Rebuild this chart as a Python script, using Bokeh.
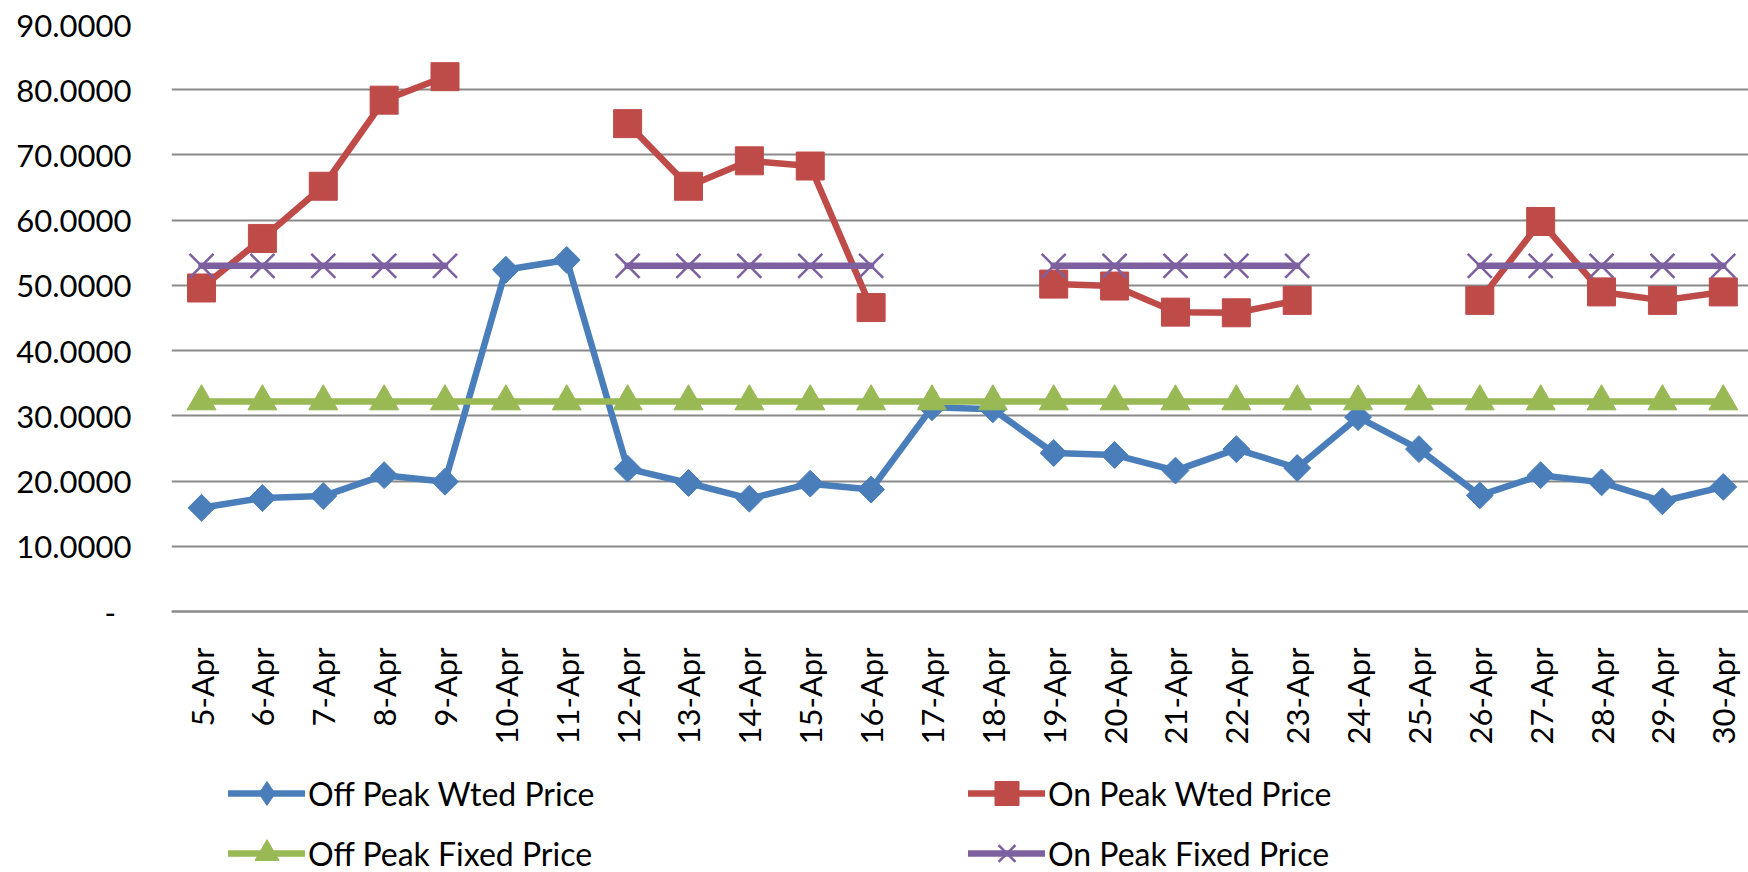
from math import pi
import numpy as np
from bokeh.plotting import figure
from bokeh.models import Range1d, FixedTicker, Legend, LegendItem
from bokeh.embed import file_html
from bokeh.resources import INLINE

dates = ["5-Apr", "6-Apr", "7-Apr", "8-Apr", "9-Apr", "10-Apr", "11-Apr", "12-Apr",
         "13-Apr", "14-Apr", "15-Apr", "16-Apr", "17-Apr", "18-Apr", "19-Apr", "20-Apr",
         "21-Apr", "22-Apr", "23-Apr", "24-Apr", "25-Apr", "26-Apr", "27-Apr", "28-Apr",
         "29-Apr", "30-Apr"]

off_peak_wted = [15.9, 17.4, 17.7, 20.9, 19.9, 52.4, 53.9, 21.9, 19.7, 17.3, 19.6, 18.7,
                 31.3, 31.0, 24.3, 24.0, 21.6, 24.9, 22.0, 29.8, 24.9, 17.8, 20.9, 19.8,
                 16.9, 19.1]
on_peak_wted = [49.6, 57.2, 65.2, 78.4, 82.0, None, None, 74.8, 65.2, 69.1, 68.3, 46.6,
                None, None, 50.2, 49.9, 45.9, 45.8, 47.7, None, None, 47.7, 59.8, 49.0,
                47.7, 49.0]
off_peak_fixed = [32.2, 32.2, 32.2, 32.2, 32.2, 32.2, 32.2, 32.2, 32.2, 32.2, 32.2, 32.2,
                  32.2, 32.2, 32.2, 32.2, 32.2, 32.2, 32.2, 32.2, 32.2, 32.2, 32.2, 32.2,
                  32.2, 32.2]
on_peak_fixed = [53.0, 53.0, 53.0, 53.0, 53.0, None, None, 53.0, 53.0, 53.0, 53.0, 53.0,
                 None, None, 53.0, 53.0, 53.0, 53.0, 53.0, None, None, 53.0, 53.0, 53.0,
                 53.0, 53.0]

series_names = ["Off Peak Wted Price", "On Peak Wted Price",
                "Off Peak Fixed Price", "On Peak Fixed Price"]

y_ticks = [0, 10, 20, 30, 40, 50, 60, 70, 80, 90]
y_tick_labels = ["-\u2002", "10.0000", "20.0000", "30.0000", "40.0000",
                 "50.0000", "60.0000", "70.0000", "80.0000", "90.0000"]

BLUE = "#4A7EBB"
RED = "#BE4B48"
GREEN = "#98B954"
PURPLE = "#7D60A0"
GRID = "#898989"
FONT = "Lato"

# layout (canvas pixels)
W, H = 1748, 872
TOP = 24            # canvas y of the 90 gridline
ZERO = 611.0        # canvas y of the 0 gridline / category axis
LEFT = 171          # canvas x of plot-area left edge
BAND = 60.87        # width of one category band
px_per_unit = (ZERO - TOP) / 90.0
y_start = -(H - ZERO) / px_per_unit
x_start = -0.5 + (LEFT - 170.6) / BAND
x_end = x_start + (W - LEFT) / BAND

x = list(range(len(dates)))

p = figure(width=W, height=H, output_backend="svg", toolbar_location=None,
           x_range=Range1d(x_start, x_end), y_range=Range1d(y_start, 90),
           min_border_left=LEFT, min_border_right=0, min_border_top=TOP,
           min_border_bottom=0)
p.outline_line_color = None
p.background_fill_color = "white"
p.border_fill_color = "white"

p.xgrid.visible = False
p.ygrid.grid_line_color = GRID
p.ygrid.grid_line_width = 2
p.ygrid.ticker = FixedTicker(ticks=y_ticks)

ya = p.yaxis[0]
ya.ticker = FixedTicker(ticks=y_ticks)
ya.major_label_overrides = dict(zip(y_ticks, y_tick_labels))
ya.axis_line_color = None
ya.major_tick_line_color = None
ya.minor_tick_line_color = None
ya.major_label_standoff = 34
ya.major_label_text_font = FONT
ya.major_label_text_font_size = "31px"
ya.major_label_text_color = "black"

xa = p.xaxis[0]
xa.fixed_location = 0
xa.ticker = FixedTicker(ticks=x)
xa.major_label_overrides = dict(zip(x, dates))
xa.major_label_orientation = pi / 2
xa.axis_line_color = GRID
xa.axis_line_width = 2
xa.major_tick_line_color = None
xa.minor_tick_line_color = None
xa.major_label_standoff = 30
xa.major_label_text_font = FONT
xa.major_label_text_font_size = "31px"
xa.major_label_text_color = "black"

y1 = np.array(off_peak_wted, dtype=float)
y2 = np.array(on_peak_wted, dtype=float)
y3 = np.array(off_peak_fixed, dtype=float)
y4 = np.array(on_peak_fixed, dtype=float)

LW = 6.5
l1 = p.line(x, y1, line_color=BLUE, line_width=LW, line_join="round", line_cap="round")
m1 = p.scatter(x, y1, marker="square", angle=pi / 4, size=19,
               fill_color=BLUE, line_color=BLUE)
# legend-only key (diamond), no visible point
k1 = p.scatter([np.nan], [np.nan], marker="diamond", fill_color=BLUE, line_color=BLUE)
l2 = p.line(x, y2, line_color=RED, line_width=LW, line_join="round", line_cap="round")
m2 = p.scatter(x, y2, marker="square", size=28, fill_color=RED, line_color=RED)
l3 = p.line(x, y3, line_color=GREEN, line_width=LW, line_join="round", line_cap="round")
m3 = p.scatter(x, y3, marker="triangle", size=29, fill_color=GREEN, line_color=GREEN)
l4 = p.line(x, y4, line_color=PURPLE, line_width=LW, line_join="round", line_cap="round")
m4 = p.scatter(x, y4, marker="x", size=34, line_color=PURPLE, line_width=2.5)

legend = Legend(
    items=[LegendItem(label=series_names[0], renderers=[l1, k1]),
           LegendItem(label=series_names[1], renderers=[l2, m2]),
           LegendItem(label=series_names[2], renderers=[l3, m3]),
           LegendItem(label=series_names[3], renderers=[l4, m4])],
    ncols=2, orientation="horizontal",
    location=(57, -11),
    glyph_width=77, glyph_height=60, label_height=60, spacing=0,
    label_standoff=3, label_width=660, padding=0, margin=0,
    border_line_color=None, background_fill_alpha=0,
    label_text_font=FONT, label_text_font_size="32px", label_text_color="black",
)
p.add_layout(legend, "center")

open("out.html", "w").write(file_html(p, INLINE))
